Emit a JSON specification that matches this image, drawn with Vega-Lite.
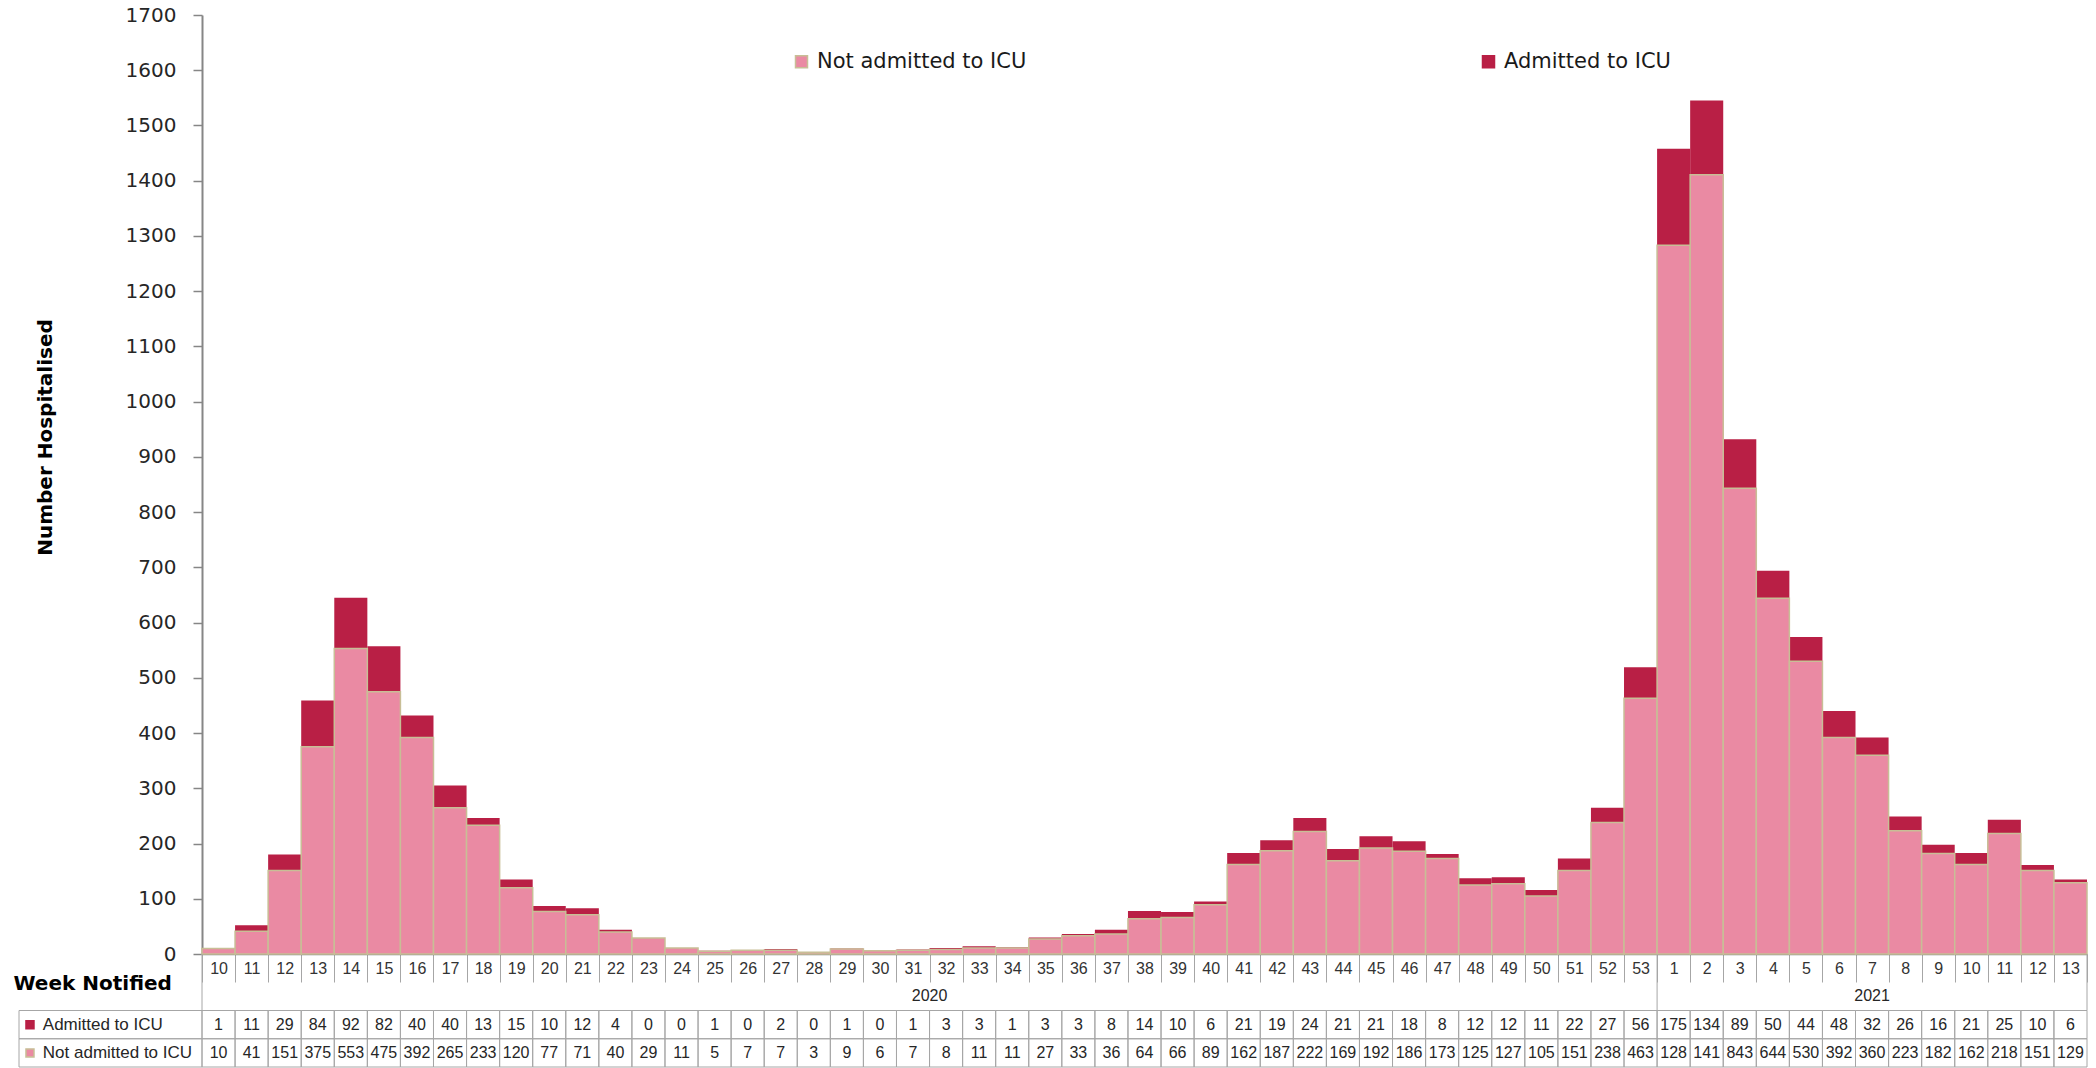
{
  "$schema": "https://vega.github.io/schema/vega-lite/v6.json",
  "width": 1885,
  "height": 939,
  "autosize": {"type": "none"},
  "padding": {"left": 202, "top": 15, "right": 9, "bottom": 114},
  "background": "white",
  "config": {"view": {"stroke": null}, "font": "Liberation Sans"},
  "data": {"values": [
    {"yw": "2020-10", "year": 2020, "week": 10, "icu": 1, "not_icu": 10},
    {"yw": "2020-11", "year": 2020, "week": 11, "icu": 11, "not_icu": 41},
    {"yw": "2020-12", "year": 2020, "week": 12, "icu": 29, "not_icu": 151},
    {"yw": "2020-13", "year": 2020, "week": 13, "icu": 84, "not_icu": 375},
    {"yw": "2020-14", "year": 2020, "week": 14, "icu": 92, "not_icu": 553},
    {"yw": "2020-15", "year": 2020, "week": 15, "icu": 82, "not_icu": 475},
    {"yw": "2020-16", "year": 2020, "week": 16, "icu": 40, "not_icu": 392},
    {"yw": "2020-17", "year": 2020, "week": 17, "icu": 40, "not_icu": 265},
    {"yw": "2020-18", "year": 2020, "week": 18, "icu": 13, "not_icu": 233},
    {"yw": "2020-19", "year": 2020, "week": 19, "icu": 15, "not_icu": 120},
    {"yw": "2020-20", "year": 2020, "week": 20, "icu": 10, "not_icu": 77},
    {"yw": "2020-21", "year": 2020, "week": 21, "icu": 12, "not_icu": 71},
    {"yw": "2020-22", "year": 2020, "week": 22, "icu": 4, "not_icu": 40},
    {"yw": "2020-23", "year": 2020, "week": 23, "icu": 0, "not_icu": 29},
    {"yw": "2020-24", "year": 2020, "week": 24, "icu": 0, "not_icu": 11},
    {"yw": "2020-25", "year": 2020, "week": 25, "icu": 1, "not_icu": 5},
    {"yw": "2020-26", "year": 2020, "week": 26, "icu": 0, "not_icu": 7},
    {"yw": "2020-27", "year": 2020, "week": 27, "icu": 2, "not_icu": 7},
    {"yw": "2020-28", "year": 2020, "week": 28, "icu": 0, "not_icu": 3},
    {"yw": "2020-29", "year": 2020, "week": 29, "icu": 1, "not_icu": 9},
    {"yw": "2020-30", "year": 2020, "week": 30, "icu": 0, "not_icu": 6},
    {"yw": "2020-31", "year": 2020, "week": 31, "icu": 1, "not_icu": 7},
    {"yw": "2020-32", "year": 2020, "week": 32, "icu": 3, "not_icu": 8},
    {"yw": "2020-33", "year": 2020, "week": 33, "icu": 3, "not_icu": 11},
    {"yw": "2020-34", "year": 2020, "week": 34, "icu": 1, "not_icu": 11},
    {"yw": "2020-35", "year": 2020, "week": 35, "icu": 3, "not_icu": 27},
    {"yw": "2020-36", "year": 2020, "week": 36, "icu": 3, "not_icu": 33},
    {"yw": "2020-37", "year": 2020, "week": 37, "icu": 8, "not_icu": 36},
    {"yw": "2020-38", "year": 2020, "week": 38, "icu": 14, "not_icu": 64},
    {"yw": "2020-39", "year": 2020, "week": 39, "icu": 10, "not_icu": 66},
    {"yw": "2020-40", "year": 2020, "week": 40, "icu": 6, "not_icu": 89},
    {"yw": "2020-41", "year": 2020, "week": 41, "icu": 21, "not_icu": 162},
    {"yw": "2020-42", "year": 2020, "week": 42, "icu": 19, "not_icu": 187},
    {"yw": "2020-43", "year": 2020, "week": 43, "icu": 24, "not_icu": 222},
    {"yw": "2020-44", "year": 2020, "week": 44, "icu": 21, "not_icu": 169},
    {"yw": "2020-45", "year": 2020, "week": 45, "icu": 21, "not_icu": 192},
    {"yw": "2020-46", "year": 2020, "week": 46, "icu": 18, "not_icu": 186},
    {"yw": "2020-47", "year": 2020, "week": 47, "icu": 8, "not_icu": 173},
    {"yw": "2020-48", "year": 2020, "week": 48, "icu": 12, "not_icu": 125},
    {"yw": "2020-49", "year": 2020, "week": 49, "icu": 12, "not_icu": 127},
    {"yw": "2020-50", "year": 2020, "week": 50, "icu": 11, "not_icu": 105},
    {"yw": "2020-51", "year": 2020, "week": 51, "icu": 22, "not_icu": 151},
    {"yw": "2020-52", "year": 2020, "week": 52, "icu": 27, "not_icu": 238},
    {"yw": "2020-53", "year": 2020, "week": 53, "icu": 56, "not_icu": 463},
    {"yw": "2021-01", "year": 2021, "week": 1, "icu": 175, "not_icu": 1283},
    {"yw": "2021-02", "year": 2021, "week": 2, "icu": 134, "not_icu": 1411},
    {"yw": "2021-03", "year": 2021, "week": 3, "icu": 89, "not_icu": 843},
    {"yw": "2021-04", "year": 2021, "week": 4, "icu": 50, "not_icu": 644},
    {"yw": "2021-05", "year": 2021, "week": 5, "icu": 44, "not_icu": 530},
    {"yw": "2021-06", "year": 2021, "week": 6, "icu": 48, "not_icu": 392},
    {"yw": "2021-07", "year": 2021, "week": 7, "icu": 32, "not_icu": 360},
    {"yw": "2021-08", "year": 2021, "week": 8, "icu": 26, "not_icu": 223},
    {"yw": "2021-09", "year": 2021, "week": 9, "icu": 16, "not_icu": 182},
    {"yw": "2021-10", "year": 2021, "week": 10, "icu": 21, "not_icu": 162},
    {"yw": "2021-11", "year": 2021, "week": 11, "icu": 25, "not_icu": 218},
    {"yw": "2021-12", "year": 2021, "week": 12, "icu": 10, "not_icu": 151},
    {"yw": "2021-13", "year": 2021, "week": 13, "icu": 6, "not_icu": 129}
  ]},
  "resolve": {"scale": {"x": "independent", "y": "independent"}},
  "layer": [
    {
      "layer": [
        {
          "transform": [{"fold": ["not_icu", "icu"], "as": ["series", "n"]}],
          "mark": {"type": "bar"},
          "encoding": {
            "x": {
              "field": "yw", "type": "ordinal",
              "scale": {"type": "band", "paddingInner": 0, "paddingOuter": 0},
              "axis": {
                "title": "Week Notified", "titleX": -189, "titleY": 29.5, "titleAlign": "left", "titleBaseline": "middle",
                "titleFont": "DejaVu Sans", "titleFontWeight": "bold", "titleFontSize": 20, "titleColor": "#000000",
                "labelExpr": "isString(datum.value) ? '' + toNumber(split(datum.value, '-')[1]) : ''",
                "labelAngle": 0, "labelFont": "Liberation Sans", "labelFontSize": 16, "labelColor": "#333333",
                "labelPadding": -22, "labelBaseline": "top", "labelFlush": false, "labelOverlap": false,
                "tickBand": "extent", "tickSize": 28, "tickColor": "#A6A6A6", "tickWidth": 1,
                "domainColor": "#868686", "domainWidth": 1.5
              }
            },
            "y": {
              "field": "n", "type": "quantitative", "stack": "zero",
              "scale": {"domain": [0, 1700], "nice": false},
              "axis": {
                "title": "Number Hospitalised", "titleX": -157, "titleY": 422, "titleAlign": "center", "titleBaseline": "middle",
                "titleFont": "DejaVu Sans", "titleFontWeight": "bold", "titleFontSize": 20, "titleColor": "#000000",
                "values": [0, 100, 200, 300, 400, 500, 600, 700, 800, 900, 1000, 1100, 1200, 1300, 1400, 1500, 1600, 1700],
                "format": "d",
                "labelFont": "DejaVu Sans", "labelFontSize": 20, "labelColor": "#262626", "labelPadding": 17, "labelFlush": false,
                "tickSize": 9, "tickColor": "#868686", "tickWidth": 1.5,
                "domainColor": "#868686", "domainWidth": 2, "grid": false
              }
            },
            "color": {
              "field": "series", "type": "nominal",
              "scale": {"domain": ["not_icu", "icu"], "range": ["#EA8AA3", "#B91F45"]},
              "legend": {
                "orient": "none", "legendX": 589, "legendY": 36, "direction": "horizontal", "title": null,
                "padding": 0, "labelFont": "DejaVu Sans", "labelFontSize": 21, "labelColor": "#1a1a1a", "labelLimit": 400,
                "symbolType": "square", "symbolSize": 144, "symbolStrokeWidth": 1.5, "labelOffset": 5,
                "columnPadding": 451,
                "labelExpr": "datum.value === 'icu' ? 'Admitted to ICU' : 'Not admitted to ICU'",
                "encode": {"symbols": {"update": {"stroke": {"signal": "datum.value === 'not_icu' ? '#C8BE96' : '#B91F45'"}}}}
              }
            },
            "order": {"field": "series", "sort": "descending"}
          }
        },
        {
          "mark": {"type": "bar", "fill": "#EA8AA3", "stroke": "#C8BE96", "strokeWidth": 1.5},
          "encoding": {
            "x": {"field": "yw", "type": "ordinal"},
            "y": {"field": "not_icu", "type": "quantitative", "title": "Number Hospitalised"}
          }
        }
      ]
    },
    {
      "layer": [
        {
          "transform": [{"fold": ["icu", "not_icu"], "as": ["series", "n"]}],
          "mark": {"type": "rect", "filled": false, "stroke": "#A6A6A6", "strokeWidth": 1},
          "encoding": {
            "x": {"field": "yw", "type": "ordinal", "scale": {"type": "band", "paddingInner": 0, "paddingOuter": 0}, "axis": null},
            "y": {"field": "series", "type": "nominal", "scale": {"type": "band", "domain": ["wk", "yr", "icu", "not_icu"], "range": [939, 1052], "paddingInner": 0, "paddingOuter": 0}, "axis": null}
          }
        },
        {
          "transform": [
            {"fold": ["icu", "not_icu"], "as": ["series", "n"]},
            {"calculate": "substring(toString(datum.n), 0, 3)", "as": "lbl"}
          ],
          "mark": {"type": "text", "font": "Liberation Sans", "fontSize": 16, "color": "#262626", "baseline": "middle", "align": "center"},
          "encoding": {
            "x": {"field": "yw", "type": "ordinal", "scale": {"type": "band", "paddingInner": 0, "paddingOuter": 0}, "axis": null},
            "y": {"field": "series", "type": "nominal", "scale": {"type": "band", "domain": ["wk", "yr", "icu", "not_icu"], "range": [939, 1052], "paddingInner": 0, "paddingOuter": 0}, "axis": null},
            "text": {"field": "lbl"}
          }
        },
        {
          "transform": [{"filter": "datum.yw === '2020-32'"}],
          "mark": {"type": "text", "font": "Liberation Sans", "fontSize": 16, "color": "#262626", "baseline": "middle", "align": "center"},
          "encoding": {
            "x": {"field": "yw", "type": "ordinal", "bandPosition": 0, "axis": null},
            "y": {"datum": "yr", "type": "nominal", "axis": null},
            "text": {"field": "year", "type": "nominal"}
          }
        },
        {
          "transform": [{"filter": "datum.yw === '2021-07'"}],
          "mark": {"type": "text", "font": "Liberation Sans", "fontSize": 16, "color": "#262626", "baseline": "middle", "align": "center"},
          "encoding": {
            "x": {"field": "yw", "type": "ordinal", "bandPosition": 0.5, "axis": null},
            "y": {"datum": "yr", "type": "nominal", "axis": null},
            "text": {"field": "year", "type": "nominal"}
          }
        },
        {
          "transform": [{"filter": "datum.yw === '2020-10' || datum.yw === '2021-01'"}],
          "mark": {"type": "rule", "color": "#A6A6A6", "strokeWidth": 1},
          "encoding": {
            "x": {"field": "yw", "type": "ordinal", "bandPosition": 0, "axis": null},
            "y": {"datum": "wk", "type": "nominal", "bandPosition": 0, "axis": null},
            "y2": {"datum": "yr", "bandPosition": 1}
          }
        },
        {
          "transform": [{"filter": "datum.yw === '2021-13'"}],
          "mark": {"type": "rule", "color": "#A6A6A6", "strokeWidth": 1},
          "encoding": {
            "x": {"field": "yw", "type": "ordinal", "bandPosition": 1, "axis": null},
            "y": {"datum": "wk", "type": "nominal", "bandPosition": 0, "axis": null},
            "y2": {"datum": "yr", "bandPosition": 1}
          }
        }
      ]
    },
    {
      "data": {"values": [
        {"series": "icu", "name": "Admitted to ICU"},
        {"series": "not_icu", "name": "Not admitted to ICU"}
      ]},
      "layer": [
        {
          "mark": {"type": "rect", "filled": false, "stroke": "#A6A6A6", "strokeWidth": 1},
          "encoding": {
            "x": {"datum": "label", "type": "nominal", "scale": {"type": "band", "domain": ["label"], "range": [-183, 0], "paddingInner": 0, "paddingOuter": 0}, "axis": null},
            "y": {"field": "series", "type": "nominal", "scale": {"type": "band", "domain": ["wk", "yr", "icu", "not_icu"], "range": [939, 1052], "paddingInner": 0, "paddingOuter": 0}, "axis": null}
          }
        },
        {
          "mark": {"type": "point", "shape": "square", "filled": true, "size": 64, "strokeWidth": 1.5, "opacity": 1},
          "encoding": {
            "x": {"datum": "label", "type": "nominal", "bandPosition": 0.06, "axis": null},
            "y": {"field": "series", "type": "nominal", "axis": null},
            "color": {"field": "series", "type": "nominal"},
            "stroke": {"condition": {"test": "datum.series === 'not_icu'", "value": "#C8BE96"}, "value": "#B91F45"}
          }
        },
        {
          "mark": {"type": "text", "font": "Liberation Sans", "fontSize": 17, "color": "#262626", "baseline": "middle", "align": "left"},
          "encoding": {
            "x": {"datum": "label", "type": "nominal", "bandPosition": 0.13, "axis": null},
            "y": {"field": "series", "type": "nominal", "axis": null},
            "text": {"field": "name"}
          }
        }
      ]
    }
  ]
}
